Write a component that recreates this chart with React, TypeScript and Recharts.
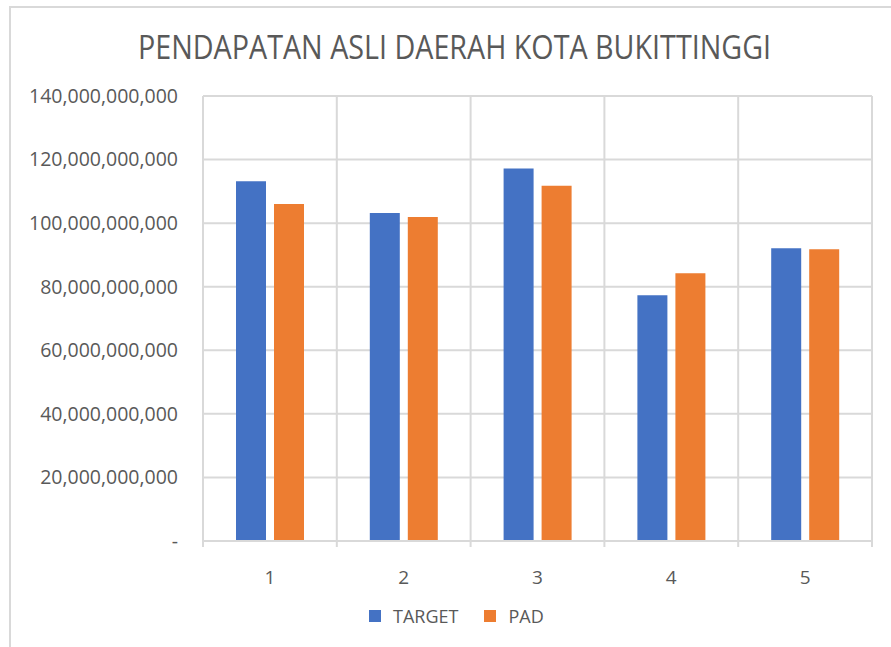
import { Bar, BarChart, CartesianGrid, XAxis, YAxis } from 'recharts';

const categories = ['1', '2', '3', '4', '5'];
const targetValues = [113.2e9, 103.2e9, 117.2e9, 77.3e9, 92.1e9];
const padValues = [106.0e9, 101.9e9, 111.8e9, 84.2e9, 91.8e9];
const yTicks = [0, 20e9, 40e9, 60e9, 80e9, 100e9, 120e9, 140e9];
const seriesNames = ['TARGET', 'PAD'];
const seriesColors = ['#4472C4', '#ED7D31'];

const data = categories.map((name, i) => ({
  name,
  TARGET: targetValues[i],
  PAD: padValues[i],
}));

const FONT = '"Open Sans", "Noto Sans", sans-serif';
const TEXT = '#595959';
const GRID = '#d9d9d9';
const W = 891;
const H = 647;
const X_HEIGHT = 36;
const MARGIN = { top: 96, right: 19, bottom: 106 - X_HEIGHT, left: 0 };
const Y_WIDTH = 203;
const BAND = (W - Y_WIDTH - MARGIN.right - MARGIN.left) / categories.length;

const formatY = (v: number) => (v === 0 ? '-' : v.toLocaleString('en-US'));

// label plus the small tick marks sitting on the category boundaries
function CategoryTick({ x, y, payload, index }: any) {
  const half = BAND / 2;
  return (
    <g>
      <line x1={x - half} x2={x - half} y1={y - 30} y2={y - 24} stroke={GRID} strokeWidth={2} />
      {index === categories.length - 1 && (
        <line x1={x + half} x2={x + half} y1={y - 30} y2={y - 24} stroke={GRID} strokeWidth={2} />
      )}
      <text x={x} y={y} dy="0.71em" textAnchor="middle" fill={TEXT} fontSize={19} fontFamily={FONT}>
        {payload.value}
      </text>
    </g>
  );
}

export default function App() {
  return (
    <div style={{ position: 'absolute', left: 0, top: 0, width: W, height: H, background: '#fff', overflow: 'hidden' }}>
      <div
        style={{
          position: 'absolute',
          left: 9,
          top: 6,
          width: 900,
          height: 700,
          borderLeft: `2px solid ${GRID}`,
          borderTop: `2px solid ${GRID}`,
          pointerEvents: 'none',
        }}
      />
      <div
        style={{
          position: 'absolute',
          left: 0,
          top: 27,
          width: 909,
          textAlign: 'center',
          fontFamily: FONT,
          fontSize: 28.7,
          color: TEXT,
          whiteSpace: 'nowrap',
          transform: 'scaleY(1.12)',
          transformOrigin: 'center center',
        }}
      >
        PENDAPATAN ASLI DAERAH KOTA BUKITTINGGI
      </div>
      <BarChart width={W} height={H} data={data} margin={MARGIN} barGap={8} barSize={30}>
        <CartesianGrid
          stroke={GRID}
          strokeWidth={2}
          verticalCoordinatesGenerator={({ offset }: any) =>
            categories.map((_, i) => offset.left + i * (offset.width / categories.length)).concat(offset.left + offset.width)
          }
        />
        <XAxis
          dataKey="name"
          height={X_HEIGHT}
          axisLine={{ stroke: GRID, strokeWidth: 2 }}
          tickLine={false}
          tickSize={0}
          tickMargin={30}
          tick={<CategoryTick />}
        />
        <YAxis
          domain={[0, 140e9]}
          ticks={yTicks}
          width={Y_WIDTH}
          axisLine={false}
          tickLine={false}
          tickSize={0}
          tickMargin={25}
          tickFormatter={formatY}
          tick={{ fill: TEXT, fontSize: 19.5, fontFamily: FONT }}
        />
        <Bar dataKey="TARGET" fill={seriesColors[0]} isAnimationActive={false} />
        <Bar dataKey="PAD" fill={seriesColors[1]} isAnimationActive={false} />
      </BarChart>
      <div
        style={{
          position: 'absolute',
          left: 369,
          top: 604,
          display: 'flex',
          alignItems: 'center',
          fontFamily: FONT,
          fontSize: 18,
          color: TEXT,
        }}
      >
        {seriesNames.map((name, i) => (
          <div key={name} style={{ display: 'flex', alignItems: 'center', marginRight: i === 0 ? 26 : 0 }}>
            <span style={{ width: 12, height: 12, background: seriesColors[i], marginRight: 12, display: 'inline-block' }} />
            <span>{name}</span>
          </div>
        ))}
      </div>
    </div>
  );
}
